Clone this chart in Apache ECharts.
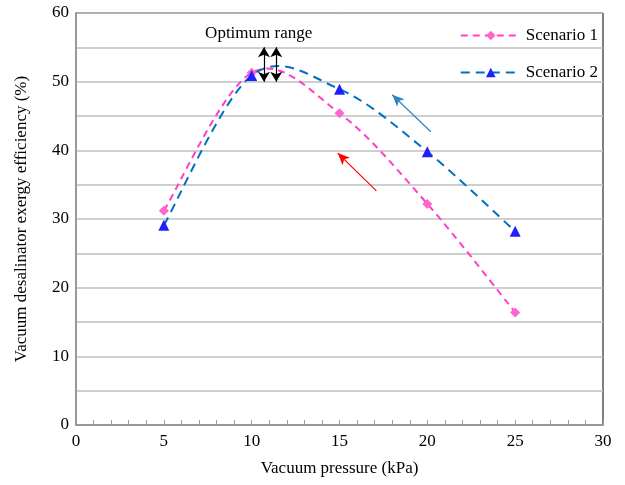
<!DOCTYPE html>
<html>
<head>
<meta charset="utf-8">
<script src="https://cdn.jsdelivr.net/npm/echarts@6/dist/echarts.min.js"></script>
<style>
  html, body { margin: 0; padding: 0; background: #fff; }
  #chart { width: 625px; height: 485px; }
</style>
</head>
<body>
<div id="chart"></div>
<script>
// values
var pressure = [5, 10, 15, 20, 25];
var scenario1 = [31.2, 51.3, 45.4, 32.2, 16.4];
var scenario2 = [29.1, 50.9, 48.9, 39.8, 28.2];

var font = 'Liberation Serif';
var pink = '#ff3fc8';
var blue = '#0070c0';

function pairs(xs, ys) {
  return xs.map(function (x, i) { return [x, ys[i]]; });
}

// Excel-like smoothed line: catmull-rom through the points, in pixel space
function smoothCurve(xs, ys, color, dash) {
  return function (params, api) {
    if (params.dataIndex !== 0) return;
    var p = xs.map(function (x, i) { return api.coord([x, ys[i]]); });
    var n = p.length;
    var d = 'M' + p[0][0] + ' ' + p[0][1];
    for (var i = 0; i < n - 1; i++) {
      var p0 = p[Math.max(i - 1, 0)], p1 = p[i], p2 = p[i + 1], p3 = p[Math.min(i + 2, n - 1)];
      var c1x = p1[0] + (p2[0] - p0[0]) / 6, c1y = p1[1] + (p2[1] - p0[1]) / 6;
      var c2x = p2[0] - (p3[0] - p1[0]) / 6, c2y = p2[1] - (p3[1] - p1[1]) / 6;
      d += ' C' + c1x + ' ' + c1y + ' ' + c2x + ' ' + c2y + ' ' + p2[0] + ' ' + p2[1];
    }
    return {
      type: 'path',
      shape: { pathData: d },
      style: { fill: 'none', stroke: color, lineWidth: 2, lineDash: dash }
    };
  };
}

var chart = echarts.init(document.getElementById('chart'));

var option = {
  animation: false,
  textStyle: { fontFamily: font },
  grid: {
    left: 76, right: 22, top: 13, bottom: 60,
    show: true, borderColor: '#000', borderWidth: 1
  },
  legend: {
    orient: 'vertical',
    right: 22, top: 22,
    itemGap: 20,
    itemWidth: 60, itemHeight: 12,
    textStyle: { fontFamily: font, fontSize: 17, color: '#000' },
    data: [
      { name: 'Scenario 1', lineStyle: { width: 2, color: pink, type: [7, 5], opacity: 1 } },
      { name: 'Scenario 2', lineStyle: { width: 2, color: blue, type: [9, 6], opacity: 1 } }
    ]
  },
  xAxis: {
    type: 'value',
    min: 0, max: 30, interval: 5,
    name: 'Vacuum pressure (kPa)',
    nameLocation: 'middle',
    nameGap: 35,
    nameTextStyle: { fontFamily: font, fontSize: 17, color: '#000' },
    axisLine: { lineStyle: { color: '#999', width: 2 } },
    axisTick: { inside: true, length: 5, lineStyle: { color: '#999' } },
    minorTick: { show: true, splitNumber: 5, length: 5, lineStyle: { color: '#999' } },
    axisLabel: { fontFamily: font, fontSize: 17, color: '#000', margin: 8 },
    splitLine: { show: false }
  },
  yAxis: {
    type: 'value',
    min: 0, max: 60, interval: 10,
    name: 'Vacuum desalinator exergy efficiency (%)',
    nameLocation: 'middle',
    nameGap: 46,
    nameTextStyle: { fontFamily: font, fontSize: 17, color: '#000' },
    axisLine: { lineStyle: { color: '#999', width: 2 } },
    axisTick: { show: false },
    axisLabel: { fontFamily: font, fontSize: 17, color: '#000', margin: 7 },
    splitLine: { lineStyle: { color: '#bfbfbf', width: 1.5 } },
    minorTick: { show: false, splitNumber: 2 },
    minorSplitLine: { show: true, lineStyle: { color: '#bfbfbf', width: 1.5 } }
  },
  series: [
    {
      name: 'curve1',
      type: 'custom',
      silent: true,
      z: 2,
      data: pairs(pressure, scenario1),
      renderItem: smoothCurve(pressure, scenario1, pink, [7, 5])
    },
    {
      name: 'curve2',
      type: 'custom',
      silent: true,
      z: 2,
      data: pairs(pressure, scenario2),
      renderItem: smoothCurve(pressure, scenario2, blue, [9, 6])
    },
    {
      name: 'Scenario 1',
      type: 'line',
      z: 5,
      data: pairs(pressure, scenario1),
      symbol: 'diamond',
      symbolSize: 10,
      lineStyle: { width: 0, opacity: 0, color: pink },
      itemStyle: { color: '#ff66cc' },
      markLine: {
        silent: true,
        symbol: ['none', 'arrow'],
        symbolSize: [8, 12],
        label: { show: false },
        lineStyle: { color: '#ff0000', width: 1.2, type: 'solid', opacity: 1 },
        data: [[{ coord: [17.1, 34.1] }, { coord: [14.9, 39.6] }]]
      }
    },
    {
      name: 'Scenario 2',
      type: 'line',
      z: 5,
      data: pairs(pressure, scenario2),
      symbol: 'triangle',
      symbolSize: 11,
      lineStyle: { width: 0, opacity: 0, color: blue },
      itemStyle: { color: '#1f1fff' },
      markLine: {
        silent: true,
        symbol: ['none', 'arrow'],
        symbolSize: [8, 12],
        label: { show: false },
        lineStyle: { color: '#2e86c1', width: 1.2, type: 'solid', opacity: 1 },
        data: [
          [{ coord: [20.2, 42.7] }, { coord: [18.0, 48.1] }]
        ]
      }
    },
    {
      // annotation arrows for the optimum range
      name: 'range',
      type: 'line',
      data: [],
      markLine: {
        silent: true,
        symbol: ['arrow', 'arrow'],
        symbolSize: [9, 10],
        label: { show: false },
        lineStyle: { color: '#000', width: 1.2, type: 'solid' },
        data: [
          [{ coord: [10.7, 50.0] }, { coord: [10.7, 55.0] }],
          [{ coord: [11.4, 50.0] }, { coord: [11.4, 55.0] }]
        ]
      },
      markPoint: {
        silent: true,
        symbol: 'rect',
        symbolSize: 1,
        itemStyle: { color: 'transparent' },
        label: {
          show: true,
          formatter: 'Optimum range',
          fontFamily: font, fontSize: 17, color: '#000'
        },
        data: [{ coord: [10.4, 57.0] }]
      }
    }
  ]
};

chart.setOption(option);
</script>
</body>
</html>
